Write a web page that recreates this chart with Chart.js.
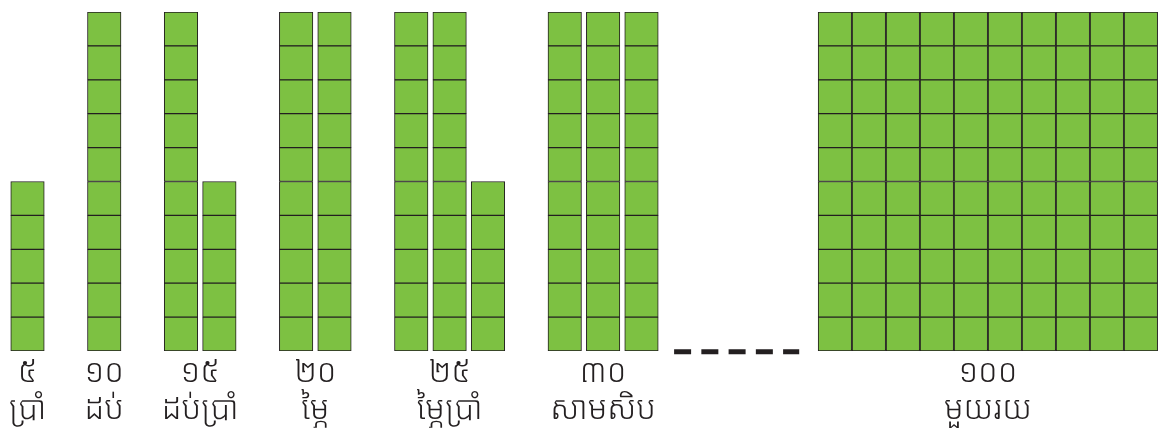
<!DOCTYPE html>
<html>
<head>
<meta charset="utf-8">
<script src="https://cdn.jsdelivr.net/npm/chart.js@4"></script>
<style>
  html, body { margin: 0; padding: 0; background: #ffffff; }
  #wrap { width: 1159px; height: 432px; }
</style>
</head>
<body>
<div id="wrap"><canvas id="countChart" width="1159" height="432"></canvas></div>
<script>
const groupCounts = [5, 10, 15, 20, 25, 30, 100];
const numeralLabels = ["៥", "១០", "១៥", "២០", "២៥", "៣០", "១០០"];
const wordLabels = ["ប្រាំ", "ដប់", "ដប់ប្រាំ", "ម្ភៃ", "ម្ភៃប្រាំ", "សាមសិប", "មួយរយ"];
const cellsPerColumn = 10;

const GREEN = "#7dc142";
const INK = "#231f20";

// layout in column units (one unit = spacing of columns in the small groups)
const GROUP_GAP = 2;
const GRID_START = 21.04;
const GRID_STEP = 0.886;

function buildColumns() {
  const columns = [];
  const centers = [];
  let x = 0;
  groupCounts.forEach(function (n, g) {
    const nCols = Math.ceil(n / cellsPerColumn);
    const isGrid = n >= cellsPerColumn * cellsPerColumn;
    const step = isGrid ? GRID_STEP : 1;
    if (isGrid) x = GRID_START;
    const first = x;
    for (let c = 0; c < nCols; c++) {
      const h = Math.min(cellsPerColumn, n - c * cellsPerColumn);
      columns.push({ x: x, height: h });
      if (c < nCols - 1) x += step;
    }
    centers.push((first + x) / 2);
    x += GROUP_GAP;
  });
  return { columns, centers };
}

const layout = buildColumns();

function buildRowDatasets() {
  const sets = [];
  for (let r = 1; r <= cellsPerColumn; r++) {
    const pts = layout.columns
      .filter(function (col) { return col.height >= r; })
      .map(function (col) { return { x: col.x, y: 1 }; });
    sets.push({
      type: "bar",
      label: "row " + r,
      data: pts,
      backgroundColor: GREEN,
      borderColor: INK,
      borderWidth: 1,
      borderSkipped: false,
      barThickness: 33.5
    });
  }
  return sets;
}

// dashed "..." between the 30 and the 100
const smallCols = layout.columns.filter(function (c) { return c.x < GRID_START; });
const lastSmall = smallCols[smallCols.length - 1].x;
const dashData = [
  { x: lastSmall + 0.85, y: -0.02 },
  { x: GRID_START - 0.93, y: -0.02 }
];

const datasets = buildRowDatasets();
datasets.push({
  type: "line",
  label: "dash",
  stack: "dash",
  data: dashData,
  borderColor: INK,
  borderWidth: 5,
  borderDash: [17, 10.25],
  borderCapStyle: "butt",
  pointRadius: 0,
  clip: false,
  fill: false
});

new Chart(document.getElementById("countChart").getContext("2d"), {
  type: "bar",
  data: { datasets: datasets },
  options: {
    responsive: false,
    animation: false,
    layout: { padding: { top: 12, left: 0, right: 0, bottom: 0 } },
    plugins: {
      legend: { display: false },
      tooltip: { enabled: false }
    },
    scales: {
      x: {
        type: "linear",
        stacked: true,
        offset: false,
        min: -0.7166,
        max: 29.486,
        grid: { display: false, offset: false },
        border: { display: false },
        afterFit: function (scale) { scale.height = 81; },
        afterBuildTicks: function (scale) {
          scale.ticks = layout.centers.map(function (v) { return { value: v }; });
        },
        ticks: {
          autoSkip: false,
          maxRotation: 0,
          padding: -5,
          color: INK,
          font: { family: "'Noto Sans Khmer', 'Noto Serif Khmer', 'Khmer OS', Hanuman, sans-serif", size: 32, weight: 300, lineHeight: 1.16 },
          callback: function (value, index) {
            return [numeralLabels[index], wordLabels[index]];
          }
        }
      },
      y: {
        stacked: true,
        display: false,
        min: 0,
        max: 10
      }
    }
  }
});
</script>
</body>
</html>
